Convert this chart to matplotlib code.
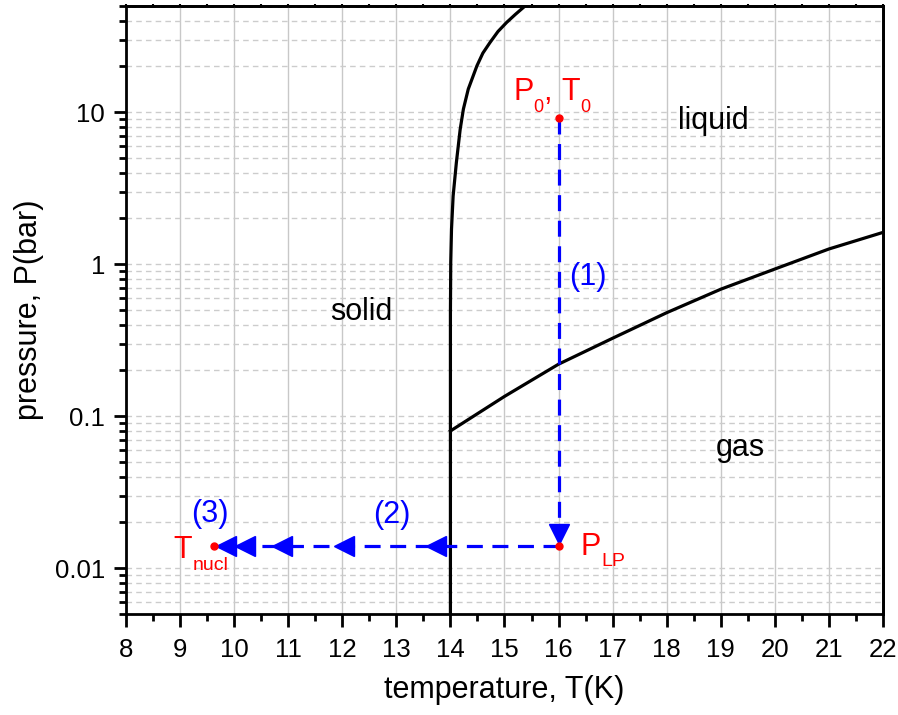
import matplotlib
matplotlib.use('Agg')
import matplotlib.pyplot as plt
from matplotlib.ticker import FixedLocator, LogLocator, NullFormatter, MultipleLocator

plt.rcParams['font.family'] = ['Liberation Sans', 'DejaVu Sans']

# melting curve (solid / liquid)
melt_T = [14.0, 14.0, 14.0, 14.006, 14.02, 14.05, 14.11, 14.18, 14.24, 14.33, 14.49, 14.6, 14.73, 14.88, 15.04, 15.2, 15.38]
melt_P = [0.005, 0.08, 0.48, 1.03, 1.70, 2.81, 4.67, 7.7, 10.5, 14.2, 20.2, 24.5, 28.7, 34.0, 39.0, 44.0, 50.0]

# vapour pressure curve (liquid / gas)
vap_T = [14, 15, 16, 17, 18, 19, 20, 21, 22]
vap_P = [0.08, 0.135, 0.22, 0.326, 0.48, 0.685, 0.93, 1.26, 1.62]

# process path
p0_T, p0_P = 16.0, 9.2
lp_T, lp_P = 16.0, 0.014
nucl_T, nucl_P = 9.62, 0.014
arrow_T = [13.74, 12.03, 10.88, 10.2, 9.85]
down_arrow_P = 0.0167

yticks = [0.01, 0.1, 1, 10]
ytick_labels = ['0.01', '0.1', '1', '10']

fig = plt.figure(figsize=(8.98, 7.15), dpi=100)
ax = fig.add_axes([0.1403, 0.1413, 0.843, 0.8503])

ax.set_yscale('log')
ax.set_xlim(8, 22)
ax.set_ylim(0.005, 50)

# grid
ax.xaxis.set_major_locator(MultipleLocator(1))
ax.xaxis.set_minor_locator(MultipleLocator(0.5))
ax.yaxis.set_major_locator(FixedLocator(yticks))
ax.set_yticklabels(ytick_labels)
ax.yaxis.set_minor_locator(LogLocator(base=10, subs=range(2, 10)))
ax.yaxis.set_minor_formatter(NullFormatter())
ax.grid(True, axis='x', which='major', color='#c8c8c8', lw=1.0, ls='-')
ax.grid(True, axis='y', which='both', color='#cccccc', lw=1.0, ls=(0, (4, 3)))
ax.set_axisbelow(True)

# phase boundaries
ax.plot(melt_T, melt_P, color='black', lw=2.3, solid_joinstyle='round')
ax.plot(vap_T, vap_P, color='black', lw=2.3, solid_joinstyle='round')

# path (1) and (2)
dash = (0, (5, 3))
ax.plot([p0_T, lp_T], [p0_P, lp_P], color='blue', lw=2.3, ls=dash)
ax.plot([lp_T, nucl_T], [lp_P, nucl_P], color='blue', lw=2.3, ls=dash)
ax.plot(arrow_T, [lp_P] * len(arrow_T), ls='none', marker='<', ms=14, color='blue', mec='blue')
ax.plot([lp_T], [down_arrow_P], ls='none', marker='v', ms=14, color='blue', mec='blue')

# points
ax.plot([p0_T, lp_T, nucl_T], [p0_P, lp_P, nucl_P], ls='none', marker='o', ms=5, color='red', zorder=5)

# labels
ax.text(12.36, 0.483, 'solid', fontsize=22, ha='center', va='center')
ax.text(18.86, 8.7, 'liquid', fontsize=22, ha='center', va='center')
ax.text(19.37, 0.0617, 'gas', fontsize=22, ha='center', va='center')

ax.text(16.55, 0.82, '(1)', fontsize=22, color='blue', ha='center', va='center')
ax.text(12.92, 0.0223, '(2)', fontsize=22, color='blue', ha='center', va='center')
ax.text(9.55, 0.0226, '(3)', fontsize=22, color='blue', ha='center', va='center')


def sub_label(x, y, parts, color='red'):
    # parts: (text, fontsize, baseline shift in points, extra gap after in points)
    renderer = fig.canvas.get_renderer()
    off = 0.0
    for s, size, dy, gap in parts:
        t = ax.annotate(s, (x, y), xytext=(off, dy), textcoords='offset points',
                        fontsize=size, color=color, ha='left', va='baseline')
        w = t.get_window_extent(renderer).width * 72.0 / fig.dpi
        off += w + gap


sub_label(15.16, 12.05, [('P', 22, 0, 0), ('0', 13, -9, 0), (',', 22, 0, 7), ('T', 22, 0, 0), ('0', 13, -9, 0)])
sub_label(16.40, 0.0122, [('P', 22, 0, 0.5), ('LP', 14, -8, 0)])
sub_label(8.87, 0.01175, [('T', 22, 0, 0.5), ('nucl', 14, -9, 0)])

ax.set_xlabel('temperature, T(K)', fontsize=22, labelpad=10)
ax.set_ylabel('pressure, P(bar)', fontsize=22, labelpad=8)

for s in ax.spines.values():
    s.set_linewidth(2)
ax.tick_params(which='major', direction='out', length=9, width=2, labelsize=18.5)
ax.tick_params(which='minor', direction='out', length=5, width=2)
ax.tick_params(axis='x', which='both', pad=8)
ax.tick_params(axis='y', which='both', pad=6)

# small ticks on top and right
ax2 = ax.secondary_xaxis('top')
ax2.tick_params(which='both', direction='out', length=1.5, width=1.5, labeltop=False)
ax2.xaxis.set_major_locator(MultipleLocator(1))
ax2.xaxis.set_minor_locator(MultipleLocator(0.5))
ax2.spines['top'].set_linewidth(2)
ax3 = ax.secondary_yaxis('right')
ax3.tick_params(which='both', direction='out', length=1.5, width=1.5, labelright=False)
ax3.yaxis.set_major_locator(FixedLocator(yticks))
ax3.yaxis.set_minor_locator(LogLocator(base=10, subs=range(2, 10)))
ax3.spines['right'].set_linewidth(2)

fig.savefig('out.png', dpi=100)
